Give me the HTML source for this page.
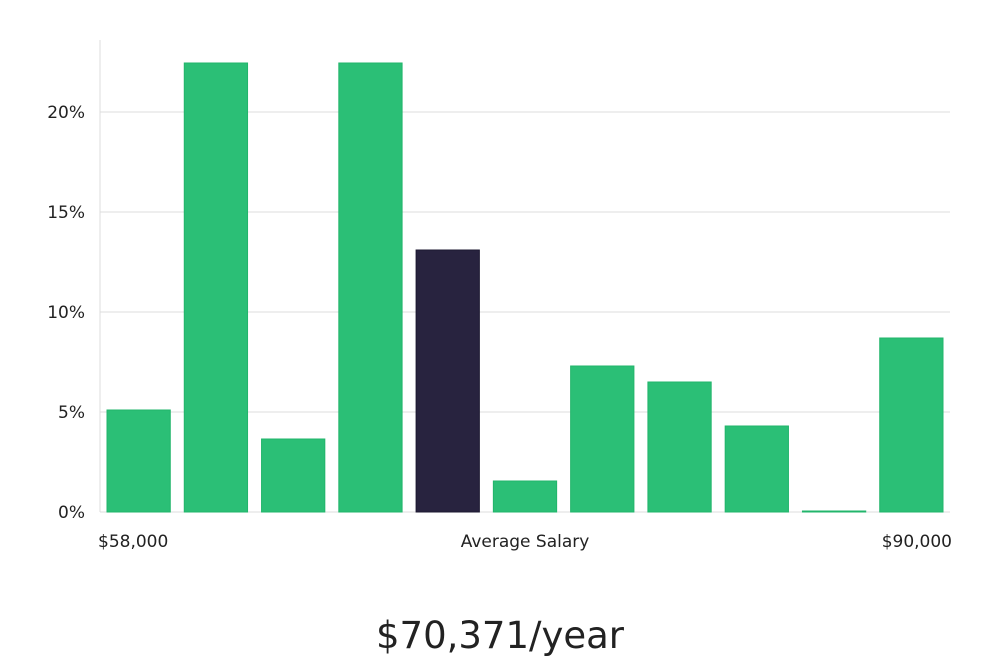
<!DOCTYPE html>
<html><head><meta charset="utf-8"><style>
html,body{margin:0;padding:0;background:#fff;width:1000px;height:660px;overflow:hidden}
svg text{font-family:"DejaVu Sans","Liberation Sans",sans-serif;fill:#222}
</style></head><body>
<svg id="chart" width="1000" height="660" xmlns="http://www.w3.org/2000/svg"></svg>
<script>
const categories = ["b1","b2","b3","b4","b5","b6","b7","b8","b9","b10","b11"];
const values = [5.1, 22.45, 3.65, 22.45, 13.1, 1.55, 7.3, 6.5, 4.3, 0.05, 8.7];
const highlightIndex = 4;
const tickValues = [0, 5, 10, 15, 20];
const tickLabels = ["0%", "5%", "10%", "15%", "20%"];
const xLabels = ["$58,000", "Average Salary", "$90,000"];
const titleText = "$70,371/year";

const NS = "http://www.w3.org/2000/svg";
const svg = document.getElementById("chart");
const L = 100, R = 950, B = 512, T = 40, pxPerUnit = 20;
const y = v => B - v * pxPerUnit;
const band = (R - L) / categories.length;
const x = i => L + i * band;
function mk(tag, attrs){const e=document.createElementNS(NS,tag);for(const k in attrs)e.setAttribute(k,attrs[k]);svg.appendChild(e);return e;}

const ax = mk("line",{x1:L,x2:L,y1:T,y2:B,stroke:"#ddd","stroke-width":1});


tickValues.forEach((v,i)=>{
  const g = mk("line",{x1:L,x2:R,y1:y(v),y2:y(v),stroke:"#dcdcdc","stroke-width":1});
  
  
  const t = mk("text",{x:85,y:y(v)+6,"text-anchor":"end","font-size":17});
  t.textContent = tickLabels[i];
  
  
});
values.forEach((v,i)=>{
  const hi = i===highlightIndex;
  const r = mk("rect",{x:x(i)+7,y:y(v),width:band-14,height:Math.max(B-y(v),1),
    fill:hi?"#28233f":"#2bbf76",stroke:hi?"#1c1830":"#22b56b","stroke-width":1});
  
  
});
const xl = [[98,"start"],[525,"middle"],[952,"end"]];
xLabels.forEach((s,i)=>{
  const t = mk("text",{x:xl[i][0],y:547,"text-anchor":xl[i][1],"font-size":17});
  t.textContent = s;
  
  
});
const tt = mk("text",{x:500,y:648,"text-anchor":"middle","font-size":37,"font-family":"Liberation Sans, sans-serif"});
tt.textContent = titleText;


</script>
</body></html>
